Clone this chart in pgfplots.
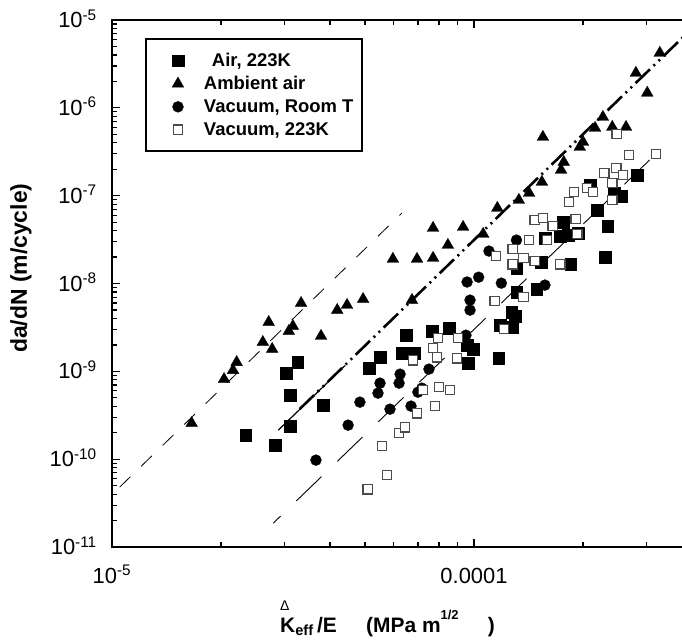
\documentclass[border=0pt]{standalone}
\usepackage{pgfplots}
\pgfplotsset{compat=1.18}
\usepackage{fontspec}
\setmainfont{Liberation Sans}
\begin{document}
\begin{tikzpicture}
\useasboundingbox (-112bp,-94bp) rectangle (570bp,547bp);
\begin{axis}[
  at={(0,0)}, anchor=south west,
  scale only axis, width=572bp, height=527bp,
  xmode=log, ymode=log,
  xmin=1e-5, xmax=3.8025e-4, ymin=1e-11, ymax=1e-5,
  axis line style={line width=2bp},
  ytick pos=left,
  xtick={1e-5,1e-4},
  xticklabels={10\textsuperscript{-5},0.0001},
  minor xtick={2e-5,3e-5,4e-5,5e-5,6e-5,7e-5,8e-5,9e-5,2e-4,3e-4},
  ytick={1e-11,1e-10,1e-9,1e-8,1e-7,1e-6,1e-5},
  yticklabels={10\textsuperscript{-11},10\textsuperscript{-10},10\textsuperscript{-9},10\textsuperscript{-8},10\textsuperscript{-7},10\textsuperscript{-6},10\textsuperscript{-5}},
  minor ytick={2e-11,3e-11,4e-11,5e-11,6e-11,7e-11,8e-11,9e-11,
    2e-10,3e-10,4e-10,5e-10,6e-10,7e-10,8e-10,9e-10,
    2e-9,3e-9,4e-9,5e-9,6e-9,7e-9,8e-9,9e-9,
    2e-8,3e-8,4e-8,5e-8,6e-8,7e-8,8e-8,9e-8,
    2e-7,3e-7,4e-7,5e-7,6e-7,7e-7,8e-7,9e-7,
    2e-6,3e-6,4e-6,5e-6,6e-6,7e-6,8e-6,9e-6},
  major tick length=8bp, minor tick length=5bp,
  tick style={black, line width=1.2bp},
  tick label style={font=\fontsize{22}{24}\selectfont},
  xticklabel style={anchor=base, inner sep=0pt, yshift=-36bp},
  yticklabel style={anchor=base east, inner sep=0pt, xshift=-15bp, yshift=-7.5bp},
  ylabel={da/dN (m/cycle)},
  ylabel style={at={(axis description cs:-0.159,0.529)}, anchor=center, font=\bfseries\fontsize{23}{26}\selectfont},
  xlabel={\rlap{\raisebox{22bp}{\fontsize{14}{14}\selectfont\mdseries Δ}}K\textsubscript{eff}\,/E\hspace{1.4em}(MPa m\raisebox{13bp}{\fontsize{13}{13}\selectfont 1/2}\hspace{1.4em})},
  xlabel style={at={(axis description cs:0.2937,-0.1613)}, anchor=base west, inner sep=0pt, font=\bfseries\fontsize{21}{24}\selectfont},
  legend style={at={(axis description cs:0.0577,0.9658)}, anchor=north west, draw=black, line width=2bp, fill=white,
    inner xsep=7bp, inner ysep=12bp, row sep=4.5bp, font=\bfseries\fontsize{18.5}{20}\selectfont,
    nodes={inner sep=2bp, text depth=0.15em}},
  legend cell align=left,
  legend image code/.code={\path (-24bp,0bp) (23bp,0bp); \draw[#1] plot coordinates {(0bp,0bp)};},
]
\addplot[only marks, mark=square*, mark size=5.8bp, mark options={fill=black, draw=black, line width=0.3bp, solid}] coordinates {
(2.34e-5,1.87e-10) (2.82e-5,1.44e-10) (3.10e-5,2.38e-10) (3.10e-5,5.36e-10) (3.03e-5,9.53e-10)
(3.26e-5,1.27e-9) (3.83e-5,4.12e-10) (5.13e-5,1.09e-9) (5.50e-5,1.45e-9) (6.49e-5,2.58e-9)
(6.32e-5,1.61e-9) (6.83e-5,1.61e-9) (7.65e-5,2.87e-9) (8.53e-5,3.10e-9) (9.57e-5,1.99e-9)
(9.94e-5,1.79e-9) (9.62e-5,1.24e-9) (1.17e-4,1.41e-9) (1.18e-4,3.36e-9) (1.28e-4,3.18e-9)
(1.27e-4,4.72e-9) (1.30e-4,4.25e-9) (1.31e-4,7.98e-9) (1.49e-4,8.63e-9) (1.31e-4,1.50e-8)
(1.53e-4,1.75e-8) (1.85e-4,1.66e-8) (1.57e-4,3.29e-8) (1.73e-4,3.47e-8) (1.82e-4,3.56e-8)
(1.76e-4,5.00e-8) (1.94e-4,3.75e-8) (2.30e-4,2.00e-8) (2.19e-4,6.85e-8) (2.34e-4,4.51e-8)
(2.09e-4,1.32e-7) (2.44e-4,1.07e-7) (2.56e-4,9.89e-8) (2.82e-4,1.72e-7)
};
\addlegendentry{\hspace*{8bp}Air, 223K}
\addplot[only marks, mark=triangle*, mark size=6.8bp, mark options={fill=black, draw=black, line width=0.3bp, solid}] coordinates {
(1.66e-5,2.57e-10) (2.04e-5,8.15e-10) (2.16e-5,1.03e-9) (2.21e-5,1.27e-9) (2.61e-5,2.15e-9)
(2.77e-5,1.79e-9) (2.71e-5,3.63e-9) (3.08e-5,2.87e-9) (3.16e-5,3.27e-9) (3.33e-5,5.98e-9)
(3.78e-5,2.52e-9) (4.19e-5,4.98e-9) (4.46e-5,5.68e-9) (4.94e-5,6.64e-9) (5.97e-5,1.90e-8)
(6.96e-5,1.90e-8) (7.71e-5,1.95e-8) (7.71e-5,4.28e-8) (8.47e-5,2.74e-8) (6.74e-5,6.47e-9)
(9.33e-5,4.39e-8) (1.06e-4,3.66e-8) (1.16e-4,7.23e-8) (1.33e-4,8.91e-8) (1.42e-4,1.07e-7)
(1.54e-4,1.43e-7) (1.55e-4,4.65e-7) (1.74e-4,1.96e-7) (1.77e-4,2.41e-7) (1.96e-4,3.58e-7)
(2.00e-4,4.08e-7) (2.16e-4,5.89e-7) (2.27e-4,7.85e-7) (2.41e-4,6.04e-7) (2.63e-4,6.04e-7)
(3.01e-4,1.48e-6) (2.80e-4,2.49e-6) (3.26e-4,4.21e-6)
};
\addlegendentry{Ambient air}
\addplot[only marks, mark=*, mark size=5.5bp, mark options={fill=black, draw=black, line width=0.3bp, solid}] coordinates {
(3.66e-5,9.75e-11) (4.49e-5,2.44e-10) (4.84e-5,4.46e-10) (5.43e-5,5.65e-10) (5.50e-5,7.34e-10)
(6.21e-5,7.34e-10) (6.25e-5,9.29e-10) (5.86e-5,3.71e-10) (6.70e-5,4.02e-10) (7.00e-5,5.79e-10)
(7.18e-5,6.44e-10) (7.51e-5,1.06e-9) (9.50e-5,2.58e-9) (9.75e-5,4.98e-9) (9.75e-5,6.47e-9)
(9.57e-5,1.04e-8) (1.03e-4,1.18e-8) (1.19e-4,1.01e-8) (1.10e-4,2.34e-8) (1.31e-4,3.12e-8)
(1.57e-4,9.59e-9)
};
\addlegendentry{Vacuum, Room T}
\addplot[only marks, mark=square*, mark size=4.7bp, mark options={fill=white, draw=black!70, line width=1.3bp, solid}] coordinates {
(5.09e-5,4.55e-11) (5.75e-5,6.58e-11) (5.57e-5,1.41e-10) (6.21e-5,1.98e-10) (6.45e-5,2.31e-10)
(6.96e-5,3.34e-10) (7.80e-5,4.02e-10) (7.23e-5,6.11e-10) (8.00e-5,6.61e-10) (8.59e-5,6.11e-10)
(6.78e-5,1.34e-9) (7.90e-5,1.45e-9) (8.98e-5,1.41e-9) (7.71e-5,1.84e-9) (7.96e-5,2.39e-9)
(9.03e-5,2.39e-9) (1.21e-4,3.03e-9) (1.14e-4,6.31e-9) (1.37e-4,7.00e-9) (1.15e-4,2.05e-8)
(1.28e-4,2.47e-8) (1.28e-4,1.66e-8) (1.37e-4,1.95e-8) (1.47e-4,1.80e-8) (1.42e-4,3.12e-8)
(1.59e-4,3.12e-8) (1.73e-4,1.66e-8) (1.93e-4,3.66e-8) (1.91e-4,5.41e-8) (1.47e-4,5.27e-8)
(1.55e-4,5.56e-8) (1.65e-4,4.51e-8) (1.83e-4,8.45e-8) (1.89e-4,1.10e-7) (2.05e-4,1.22e-7)
(2.13e-4,1.10e-7) (2.41e-4,8.91e-8) (2.41e-4,1.39e-7) (2.29e-4,1.81e-7) (2.47e-4,2.06e-7)
(2.58e-4,1.72e-7) (2.68e-4,2.90e-7) (3.18e-4,2.98e-7) (2.48e-4,5.04e-7)
};
\addlegendentry{Vacuum, 223K}
% fit lines
\addplot[forget plot, black, line width=0.8bp, dash pattern=on 15bp off 15bp] coordinates {(1.05e-5,4.80e-11) (6.32e-5,6.34e-8)};
\addplot[forget plot, black, line width=1.2bp] coordinates {(2.88e-5,2.14e-10) (4.41e-5,1.17e-9)};
\addplot[forget plot, black, line width=2.6bp, dash pattern=on 20bp off 5bp on 2bp off 5bp on 2bp off 5bp] coordinates {(3.30e-5,3.72e-10) (3.80e-4,6.52e-6)};
\addplot[forget plot, black, line width=0.9bp, dash pattern=on 35bp off 22bp, dash phase=25bp] coordinates {(2.79e-5,1.87e-11) (3.26e-4,3.30e-7)};
\end{axis}
\end{tikzpicture}
\end{document}
